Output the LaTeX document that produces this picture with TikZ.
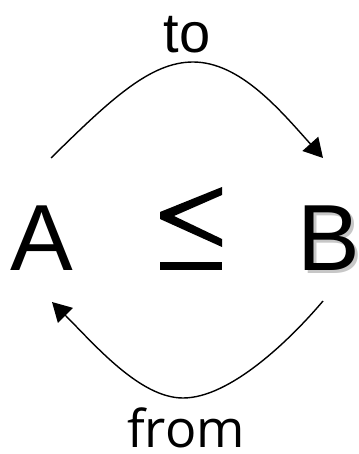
\documentclass[tikz,border=0pt]{standalone}
\usepackage{fontspec}
\setmainfont{Liberation Sans}
\newfontfamily\fromfont{Open Sans}
\usetikzlibrary{arrows.meta}
\begin{document}
\begin{tikzpicture}[x=1pt,y=-1pt,
  big/.style={font=\fontsize{94}{94}\selectfont, inner sep=0pt, anchor=base},
  lab/.style={font=\fontsize{56}{56}\selectfont, inner sep=0pt, anchor=base},
  arc/.style={line width=1.4pt, -{Triangle[length=19pt,width=21pt]}}]
\useasboundingbox (0,0) rectangle (358,454);
\node[big] (A) at (42,270) {A};
\node[big, text=black!22] (Bs) at (332,273) {B};
\node[big] (B) at (329,270) {B};
\node[lab] (to) at (187,53) {to};
\node[lab, font=\fromfont\fontsize{52}{52}\selectfont] (from) at (186,447) {from};
% less-or-equal sign
\coordinate (le) at (191,229);
\fill (222,187) -- (160,212) -- (160,219) -- (222,247) -- (222,239) -- (174,216) -- (222,195) -- cycle;
\fill (160,262) rectangle (222,270);
\coordinate (t0) at (51,158);
\coordinate (tp) at (193,62);
\coordinate (t1) at (323,158);
\coordinate (b0) at (323,301);
\coordinate (bp) at (183,398);
\coordinate (b1) at (52,302);
\draw[arc] (t0) .. controls (110,100) and (150,62) .. (tp) .. controls (240,62) and (280,110) .. (t1);
\draw[arc] (b0) .. controls (290,340) and (230,398) .. (bp) .. controls (140,398) and (95,345) .. (b1);
\end{tikzpicture}
\end{document}
